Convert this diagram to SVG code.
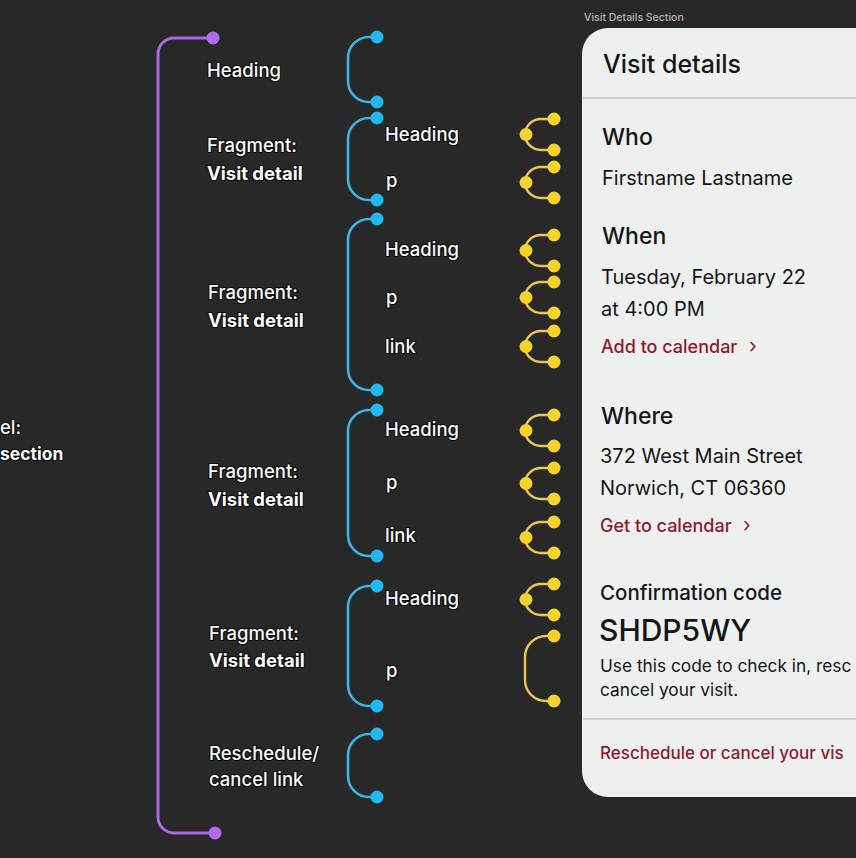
<svg xmlns="http://www.w3.org/2000/svg" xmlns:xlink="http://www.w3.org/1999/xlink" width="856" height="858" viewBox="0 0 856 858">
<style>
.lbl{font-family:Inter,"Open Sans","Liberation Sans",sans-serif;font-size:18.5px;font-weight:500;fill:#fafafa;stroke:#0c0c0c;stroke-width:2.2px;paint-order:stroke;stroke-linejoin:round}
.b{font-weight:700}
.pur{fill:none;stroke:#a866e6;stroke-width:3}
.blu{fill:none;stroke:#3cb4e4;stroke-width:2.6}
.yel{fill:none;stroke:#e9c659;stroke-width:2.4}
.pd{fill:#b06cec}
.bd{fill:#1fb8ef}
.yd{fill:#f5d22c}
.card{font-family:Inter,"Open Sans","Liberation Sans",sans-serif;fill:#161616}
.h{font-size:23px;font-weight:500}
.t{font-size:20px;font-weight:400}
.lnk{font-size:18px;font-weight:500;fill:#8c1b2d}
.chev{font-size:20px;font-weight:400;fill:#8c1b2d}
</style>
<defs>
<g id="ybr">
<path class="yel" d="M29,0 H16 A16,15.5 0 0 0 0,15.5 A16,15.5 0 0 0 16,31 H29"/>
<circle class="yd" cx="29" cy="0" r="6.5"/>
<circle class="yd" cx="1" cy="15.5" r="6.5"/>
<circle class="yd" cx="29" cy="31" r="6.5"/>
</g>
</defs>
<rect width="856" height="858" fill="#282828"/>

<g id="connectors">
<path class="pur" d="M213,38 H174 A16,16 0 0 0 158,54 V817 A16,16 0 0 0 174,833 H215"/>
<circle class="pd" cx="213" cy="38" r="6.5"/>
<circle class="pd" cx="215" cy="833" r="6.5"/>

<path class="blu" d="M377,37 H369 A21,21 0 0 0 348,58 V81 A21,21 0 0 0 369,102 H377"/>
<path class="blu" d="M377,118 H369 A21,21 0 0 0 348,139 V179 A21,21 0 0 0 369,200 H377"/>
<path class="blu" d="M377,219 H369 A21,21 0 0 0 348,240 V369 A21,21 0 0 0 369,390 H377"/>
<path class="blu" d="M377,410 H369 A21,21 0 0 0 348,431 V535 A21,21 0 0 0 369,556 H377"/>
<path class="blu" d="M377,586 H369 A21,21 0 0 0 348,607 V685 A21,21 0 0 0 369,706 H377"/>
<path class="blu" d="M377,734 H369 A21,21 0 0 0 348,755 V776 A21,21 0 0 0 369,797 H377"/>
<g class="bd">
<circle cx="377" cy="37" r="6.5"/><circle cx="377" cy="102" r="6.5"/>
<circle cx="377" cy="118" r="6.5"/><circle cx="377" cy="200" r="6.5"/>
<circle cx="377" cy="219" r="6.5"/><circle cx="377" cy="390" r="6.5"/>
<circle cx="377" cy="410" r="6.5"/><circle cx="377" cy="556" r="6.5"/>
<circle cx="377" cy="586" r="6.5"/><circle cx="377" cy="706" r="6.5"/>
<circle cx="377" cy="734" r="6.5"/><circle cx="377" cy="797" r="6.5"/>
</g>

<use xlink:href="#ybr" x="525" y="119"/>
<use xlink:href="#ybr" x="525" y="167"/>
<use xlink:href="#ybr" x="525" y="235"/>
<use xlink:href="#ybr" x="525" y="282"/>
<use xlink:href="#ybr" x="525" y="331"/>
<use xlink:href="#ybr" x="525" y="415"/>
<use xlink:href="#ybr" x="525" y="468"/>
<use xlink:href="#ybr" x="525" y="522"/>
<use xlink:href="#ybr" x="525" y="584"/>
<path class="yel" d="M554,636 H546 A21,21 0 0 0 525,657 V680 A21,21 0 0 0 546,701 H554"/>
<circle class="yd" cx="554" cy="636" r="6.5"/>
<circle class="yd" cx="554" cy="701" r="6.5"/>
</g>

<g id="section-label">
<text class="lbl" x="0" y="434">el:</text>
<text class="lbl b" x="0" y="460" style="font-size:17.5px">section</text>
</g>

<g id="heading"><text class="lbl" x="207" y="77">Heading</text></g>
<g id="fragment1"><text class="lbl" x="207" y="152">Fragment:</text><text class="lbl b" x="207" y="180">Visit detail</text></g>
<g id="fragment2"><text class="lbl" x="208" y="299">Fragment:</text><text class="lbl b" x="208" y="327">Visit detail</text></g>
<g id="fragment3"><text class="lbl" x="208" y="478">Fragment:</text><text class="lbl b" x="208" y="506">Visit detail</text></g>
<g id="fragment4"><text class="lbl" x="209" y="640">Fragment:</text><text class="lbl b" x="209" y="667">Visit detail</text></g>
<g id="reschedule"><text class="lbl" x="209" y="760">Reschedule/</text><text class="lbl" x="209" y="786">cancel link</text></g>

<g id="frag1-items"><text class="lbl" x="385" y="141">Heading</text><text class="lbl" x="386" y="187">p</text></g>
<g id="frag2-items"><text class="lbl" x="385" y="256">Heading</text><text class="lbl" x="386" y="304">p</text><text class="lbl" x="385" y="353">link</text></g>
<g id="frag3-items"><text class="lbl" x="385" y="436">Heading</text><text class="lbl" x="386" y="489">p</text><text class="lbl" x="385" y="542">link</text></g>
<g id="frag4-items"><text class="lbl" x="385" y="605">Heading</text><text class="lbl" x="386" y="677">p</text></g>

<g id="card">
<text x="584" y="21" font-family="Inter,'Liberation Sans',sans-serif" font-size="10.5" font-weight="500" fill="#b4b4b4">Visit Details Section</text>
<rect x="582" y="28" width="320" height="769" rx="26" fill="#eef0ef"/>
<line x1="583" y1="98" x2="856" y2="98" stroke="#a9abab" stroke-width="1.2"/>
<line x1="583" y1="719" x2="856" y2="719" stroke="#b3b5b5" stroke-width="1.2"/>
<text class="card" x="603" y="73" font-size="25" font-weight="500">Visit details</text>
<text class="card h" x="602" y="145">Who</text>
<text class="card t" x="602" y="185">Firstname Lastname</text>
<text class="card h" x="602" y="244">When</text>
<text class="card t" x="601" y="284">Tuesday, February 22</text>
<text class="card t" x="601" y="316">at 4:00 PM</text>
<text class="card lnk" x="601" y="353">Add to calendar</text>
<text class="card chev" x="749" y="353">›</text>
<text class="card h" x="601" y="424">Where</text>
<text class="card t" x="600" y="463">372 West Main Street</text>
<text class="card t" x="600" y="495">Norwich, CT 06360</text>
<text class="card lnk" x="600" y="532">Get to calendar</text>
<text class="card chev" x="743" y="532">›</text>
<text class="card" x="600" y="600" font-size="20.5" font-weight="500">Confirmation code</text>
<text class="card" x="599" y="641" font-size="30" font-weight="500">SHDP5WY</text>
<text class="card" x="600" y="672" font-size="17.3">Use this code to check in, resc</text>
<text class="card" x="600" y="696" font-size="17.3">cancel your visit.</text>
<text class="card lnk" x="600" y="759" style="font-size:17px">Reschedule or cancel your vis</text>
</g>
</svg>
